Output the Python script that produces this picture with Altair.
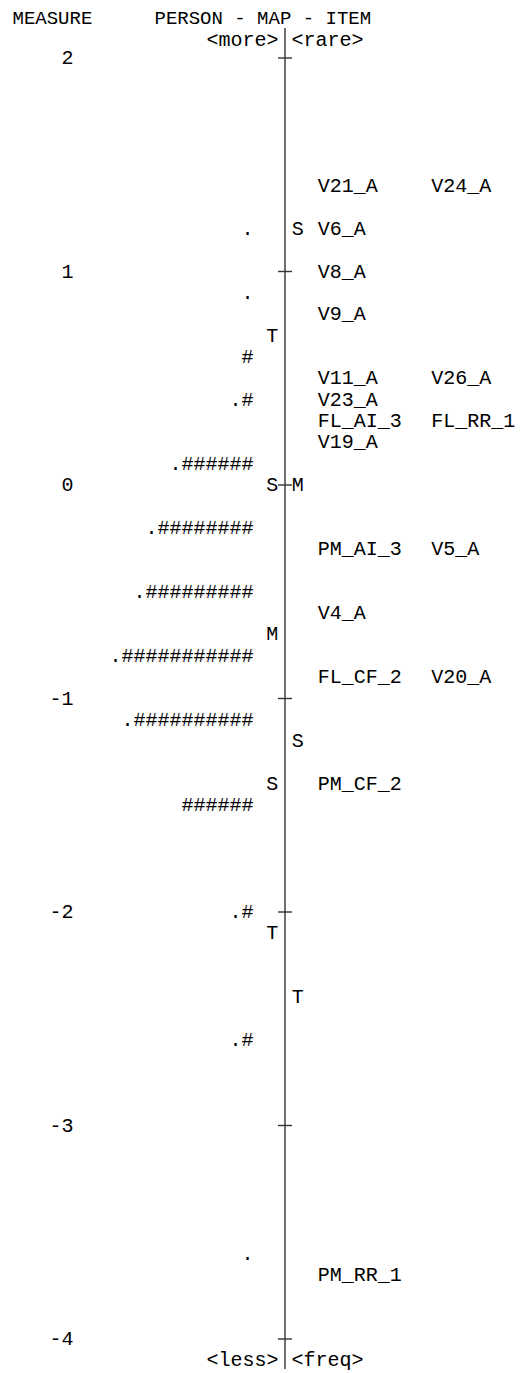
import altair as alt
import pandas as pd

# ---------------- data ----------------
TICK_VALUES = [2, 1, 0, -1, -2, -3, -4]
TICK_LABELS = ["2", "1", "0", "-1", "-2", "-3", "-4"]

PERSON_MEASURES = [1.2, 0.9, 0.6, 0.4, 0.1, -0.2, -0.5, -0.8, -1.1, -1.5, -2.0, -2.6, -3.6]
PERSON_BARS = [".", ".", "#", ".#", ".######", ".########", ".#########",
               ".###########", ".##########", "######", ".#", ".#", "."]

ITEM_MEASURES = [1.4, 1.4, 1.2, 1.0, 0.8, 0.5, 0.5, 0.4, 0.3, 0.3, 0.2,
                 -0.3, -0.3, -0.6, -0.9, -0.9, -1.4, -3.7]
ITEM_LABELS = ["V21_A", "V24_A", "V6_A", "V8_A", "V9_A", "V11_A", "V26_A", "V23_A",
               "FL_AI_3", "FL_RR_1", "V19_A", "PM_AI_3", "V5_A", "V4_A",
               "FL_CF_2", "V20_A", "PM_CF_2", "PM_RR_1"]

PERSON_STAT_MEASURES = [0.7, 0.0, -0.7, -1.4, -2.1]
PERSON_STAT_LABELS = ["T", "S", "M", "S", "T"]
ITEM_STAT_MEASURES = [1.2, 0.0, -1.2, -2.4]
ITEM_STAT_LABELS = ["S", "M", "S", "T"]

HEADER_ROW = 2.188
TOP_ROW = 2.084
BOTTOM_ROW = -4.1
AXIS_TOP = 2.14
AXIS_BOTTOM = -4.14

# ---------------- layout / style ----------------
FONT = "Liberation Mono"
FS = 20
HEADER_FS = 19
W, H = 507, 1365
PX_PER_UNIT = 213.5
Y_TOP = 2 + 50 / PX_PER_UNIT
Y_BOTTOM = Y_TOP - H / PX_PER_UNIT

AXIS_X = 277
PERSON_RIGHT = 245.6
LEFT_MARK_X = 264.3
RIGHT_MARK_X = 289.7
ITEM_X0, ITEM_X1 = 309.8, 423.2
LABEL_RIGHT = 65.5
LINE_COLOR = "#333333"

yscale = alt.Scale(domain=[Y_BOTTOM, Y_TOP], nice=False, zero=False)


def Y(field):
    return alt.Y(field, type="quantitative", scale=yscale, axis=None)


def text_layer(df, align, x, size=FS):
    return alt.Chart(df).mark_text(
        align=align, baseline="middle", font=FONT, fontSize=size, color="#000000"
    ).encode(x=x, y=Y("m"), text="t:N")


persons = pd.DataFrame({"m": PERSON_MEASURES, "t": PERSON_BARS})
items = pd.DataFrame({"m": ITEM_MEASURES, "t": ITEM_LABELS})
items["col"] = items.groupby("m").cumcount()
pstat = pd.DataFrame({"m": PERSON_STAT_MEASURES, "t": PERSON_STAT_LABELS})
istat = pd.DataFrame({"m": ITEM_STAT_MEASURES, "t": ITEM_STAT_LABELS})
ticks = pd.DataFrame({"m": TICK_VALUES, "t": TICK_LABELS})

axis_line = alt.Chart(pd.DataFrame({"top": [AXIS_TOP], "bottom": [AXIS_BOTTOM]})).mark_rule(
    color=LINE_COLOR, strokeWidth=1.4
).encode(x=alt.value(AXIS_X), y=Y("top"), y2="bottom:Q")

tick_marks = alt.Chart(ticks).mark_rule(color=LINE_COLOR, strokeWidth=1.4).encode(
    x=alt.value(AXIS_X - 7), x2=alt.value(AXIS_X + 7), y=Y("m")
)

tick_labels = text_layer(ticks, "right", alt.value(LABEL_RIGHT))
person_layer = text_layer(persons, "right", alt.value(PERSON_RIGHT))
pstat_layer = text_layer(pstat, "center", alt.value(LEFT_MARK_X))
istat_layer = text_layer(istat, "center", alt.value(RIGHT_MARK_X))
item_layer = alt.Chart(items).mark_text(
    align="left", baseline="middle", font=FONT, fontSize=FS, color="#000000"
).encode(
    x=alt.X("col:Q", scale=alt.Scale(domain=[0, 1], range=[ITEM_X0, ITEM_X1], nice=False, zero=False), axis=None),
    y=Y("m"),
    text="t:N",
)

hdr_left = pd.DataFrame({"m": [HEADER_ROW], "t": ["MEASURE"]})
hdr_mid = pd.DataFrame({"m": [HEADER_ROW], "t": ["PERSON - MAP - ITEM"]})
ends_left = pd.DataFrame({"m": [TOP_ROW, BOTTOM_ROW], "t": ["<more>", "<less>"]})
ends_right = pd.DataFrame({"m": [TOP_ROW, BOTTOM_ROW], "t": ["<rare>", "<freq>"]})

hdr1 = text_layer(hdr_left, "left", alt.value(4.5), HEADER_FS)
hdr2 = text_layer(hdr_mid, "left", alt.value(146.5), HEADER_FS)
end1 = text_layer(ends_left, "right", alt.value(AXIS_X - 6.5))
end2 = text_layer(ends_right, "left", alt.value(AXIS_X + 6.5))

chart = alt.layer(
    axis_line, tick_marks, tick_labels, person_layer, pstat_layer, istat_layer,
    item_layer, hdr1, hdr2, end1, end2
).properties(
    width=W, height=H, padding=0, autosize=alt.AutoSizeParams(type="none")
).configure_view(strokeWidth=0)

chart.save("out.html", embed_options={"renderer": "svg", "actions": False})
